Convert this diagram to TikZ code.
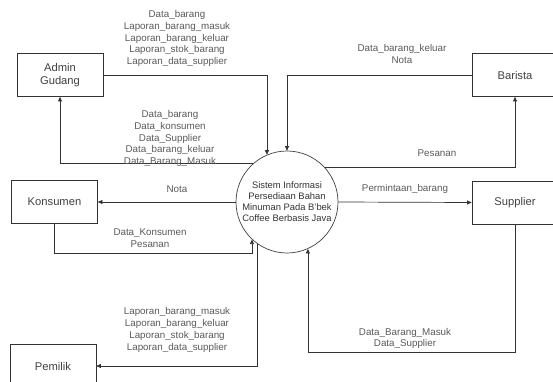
\documentclass[tikz,border=0pt]{standalone}
\usepackage{fontspec}
\setmainfont{Liberation Sans}
\usetikzlibrary{positioning, arrows.meta}

\begin{document}
\begin{tikzpicture}[
    x=1pt, y=-1pt,
    line width=0.7pt,
    entitas/.style={draw=black!80,rectangle,minimum width=86pt,minimum height=43pt,inner sep=0pt,align=center,text=black!75,font=\fontsize{11.2}{13.4}\selectfont},
    proses/.style={draw=black!75,circle,minimum size=102pt,inner sep=0pt,align=center,text=black!80,font=\fontsize{9.4}{11}\selectfont},
    alur/.style={draw=black!80,-{Triangle[length=4.5pt,width=4pt]}},
    ket/.style={align=center,inner sep=0pt,text=black!65,font=\fontsize{9.8}{11.8}\selectfont}
]
\clip (0,0) rectangle (553,382);

% =============================
% 0. Proses dan entitas
% =============================
\node[proses] (sistem) at (287,202) {Sistem Informasi\\Persediaan Bahan\\Minuman Pada B'bek\\Coffee Berbasis Java};

\node[entitas] (admin) at (60,75) {Admin\\Gudang};
\node[entitas] (barista) at (515,75) {Barista};
\node[entitas] (konsumen) at (54.5,202) {Konsumen};
\node[entitas] (supplier) at (515,202.5) {Supplier};
\node[entitas] (pemilik) at (53,366) {Pemilik};

% =============================
% 1. Admin Gudang
% =============================
\draw[alur] (admin.east) -| (sistem.113);
\draw[alur] (sistem.132) -| (admin.south);

\node[ket] (ket1) at (177,38.5) {Data\_barang\\Laporan\_barang\_masuk\\Laporan\_barang\_keluar\\Laporan\_stok\_barang\\Laporan\_data\_supplier};
\node[ket] (ket2) at (170,138.5) {Data\_barang\\Data\_konsumen\\Data\_Supplier\\Data\_barang\_keluar\\Data\_Barang\_Masuk};

% =============================
% 2. Barista
% =============================
\draw[alur] (barista.west) -| (sistem.north);
\draw[alur] (sistem.42) -| (barista.south);

\node[ket] (ket3) at (402,54) {Data\_barang\_keluar\\Nota};
\node[ket] (ket4) at (437,153) {Pesanan};

% =============================
% 3. Konsumen
% =============================
\draw[alur] (sistem.west) -- (konsumen.east);
\draw[alur] (konsumen.south) -- ++(0,29.5) -| (sistem.227);

\node[ket] (ket5) at (177,189) {Nota};
\node[ket] (ket6) at (150,238) {Data\_Konsumen\\Pesanan};

% =============================
% 4. Supplier
% =============================
\draw[alur] (sistem.east) -- (supplier.west);
\draw[alur] (supplier.south) -- ++(0,128) -| (sistem.294);

\node[ket] (ket7) at (405,189) {Permintaan\_barang};
\node[ket] (ket8) at (405,338.5) {Data\_Barang\_Masuk\\Data\_Supplier};

% =============================
% 5. Pemilik
% =============================
\draw[alur] (sistem.235) |- (pemilik.east);

\node[ket] (ket9) at (177,330) {Laporan\_barang\_masuk\\Laporan\_barang\_keluar\\Laporan\_stok\_barang\\Laporan\_data\_supplier};
\end{tikzpicture}
\end{document}
